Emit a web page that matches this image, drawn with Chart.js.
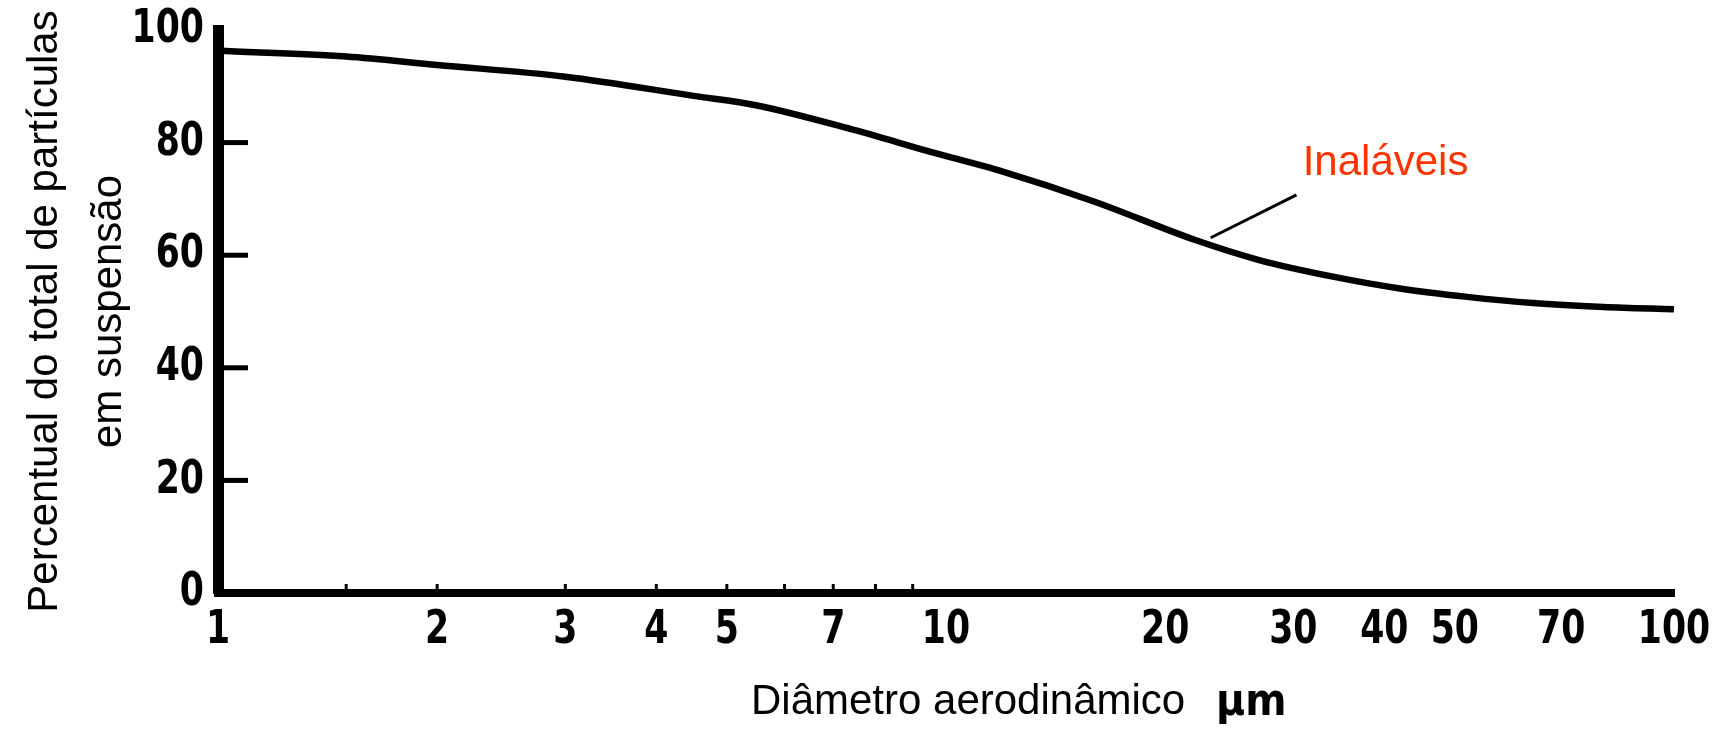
<!DOCTYPE html>
<html>
<head>
<meta charset="utf-8">
<script src="https://cdn.jsdelivr.net/npm/chart.js@4.4.1/dist/chart.umd.min.js"></script>
<style>
  html, body { margin: 0; padding: 0; background: #fff; }
  canvas { display: block; }
</style>
</head>
<body>
<canvas id="chart" width="1733" height="729"></canvas>
<script>
// diametro aerodinamico (um) e percentual inalavel
const diameters = [1, 1.5, 2, 3, 4.5, 5.5, 7.5, 9.5, 12, 16, 22, 27, 34, 42, 52, 64, 80, 100];
const inhalable = [96.3, 95.3, 93.8, 91.7, 88.3, 86.6, 82.2, 78.4, 74.8, 69.5, 62.7, 59.1, 56.2, 54.1, 52.6, 51.5, 50.8, 50.4];

const xTickLabels = [1, 2, 3, 4, 5, 7, 10, 20, 30, 40, 50, 70, 100];
const xMinorTicks = [1.5, 2, 3, 4, 5, 6, 7, 8, 9];
const yTickMarks = [20, 40, 60, 80];

// linha de chamada do rotulo "Inaláveis"
const leaderX = [23.1, 30.3];
const leaderY = [63.1, 70.7];
const labelText = 'Inaláveis';
const labelAt = [30.9, 74.2];

const digitFont = 'bold 47px "DejaVu Sans Condensed", "DejaVu Sans", sans-serif';
const textFont = '"Liberation Sans", Arial, sans-serif';
const squeeze = 0.82; // numeros estreitos como no original

function narrowText(ctx, text, x, y, align) {
  ctx.save();
  ctx.translate(x, y);
  ctx.scale(squeeze, 1);
  ctx.textAlign = align;
  ctx.textBaseline = 'middle';
  ctx.fillText(text, 0, 0);
  ctx.restore();
}

const extras = {
  id: 'extras',
  afterDraw(chart) {
    const { ctx, chartArea, scales: { x, y } } = chart;
    ctx.save();
    ctx.strokeStyle = '#000';
    ctx.fillStyle = '#000';
    ctx.lineCap = 'butt';

    // marcas internas do eixo y
    ctx.lineWidth = 5;
    yTickMarks.forEach(v => {
      const py = y.getPixelForValue(v);
      ctx.beginPath();
      ctx.moveTo(chartArea.left, py);
      ctx.lineTo(chartArea.left + 30, py);
      ctx.stroke();
    });

    // marcas pequenas do eixo x
    ctx.lineWidth = 3;
    xMinorTicks.forEach(v => {
      const px = x.getPixelForValue(v);
      ctx.beginPath();
      ctx.moveTo(px, chartArea.bottom);
      ctx.lineTo(px, chartArea.bottom - 9);
      ctx.stroke();
    });

    // rotulos dos eixos
    ctx.font = digitFont;
    y.ticks.forEach(t => {
      narrowText(ctx, String(t.value), chartArea.left - 14, y.getPixelForValue(t.value), 'right');
    });
    x.ticks.forEach(t => {
      narrowText(ctx, String(t.value), x.getPixelForValue(t.value), chartArea.bottom + 38, 'center');
    });

    // rotulo da curva
    ctx.fillStyle = '#ff3300';
    ctx.font = '42px ' + textFont;
    ctx.textAlign = 'left';
    ctx.textBaseline = 'alphabetic';
    ctx.fillText(labelText, x.getPixelForValue(labelAt[0]), y.getPixelForValue(labelAt[1]));

    // titulo do eixo x
    ctx.fillStyle = '#000';
    ctx.textBaseline = 'middle';
    ctx.fillText('Diâmetro aerodinâmico', 751, 702);
    ctx.font = 'bold 44px "DejaVu Sans Condensed", "DejaVu Sans", sans-serif';
    ctx.fillText('µm', 1216, 704);
    ctx.restore();
  }
};

const ctx = document.getElementById('chart').getContext('2d');
new Chart(ctx, {
  type: 'line',
  data: {
    datasets: [{
      label: 'Inaláveis',
      data: diameters.map((d, i) => ({ x: d, y: inhalable[i] })),
      borderColor: '#000',
      borderWidth: 6.5,
      pointRadius: 0,
      cubicInterpolationMode: 'monotone',
      fill: false
    }, {
      label: 'chamada',
      data: leaderX.map((d, i) => ({ x: d, y: leaderY[i] })),
      borderColor: '#000',
      borderWidth: 3,
      pointRadius: 0,
      fill: false
    }]
  },
  options: {
    responsive: false,
    animation: false,
    clip: false,
    layout: { padding: { top: 30, right: 59, left: 0, bottom: 0 } },
    plugins: {
      legend: { display: false },
      tooltip: { enabled: false }
    },
    scales: {
      x: {
        type: 'logarithmic',
        min: 1,
        max: 100,
        afterBuildTicks: scale => {
          scale.ticks = xTickLabels.map(v => ({ value: v }));
        },
        afterFit: scale => {
          scale.height = 136;
          scale.paddingLeft = 0;
          scale.paddingRight = 0;
        },
        grid: { display: false, drawTicks: false },
        border: { display: true, color: '#000', width: 8 },
        ticks: { display: false, autoSkip: false }
      },
      y: {
        type: 'linear',
        min: 0,
        max: 100,
        afterFit: scale => {
          scale.width = 218;
          scale.paddingTop = 0;
          scale.paddingBottom = 0;
        },
        grid: { display: false, drawTicks: false },
        border: { display: true, color: '#000', width: 11 },
        ticks: { display: false, stepSize: 20 },
        title: {
          display: true,
          text: ['Percentual do total de partículas', 'em suspensão'],
          color: '#000',
          font: { family: textFont, size: 42, lineHeight: 1.52 },
          padding: { top: 14, bottom: 0 }
        }
      }
    }
  },
  plugins: [extras]
});
</script>
</body>
</html>
